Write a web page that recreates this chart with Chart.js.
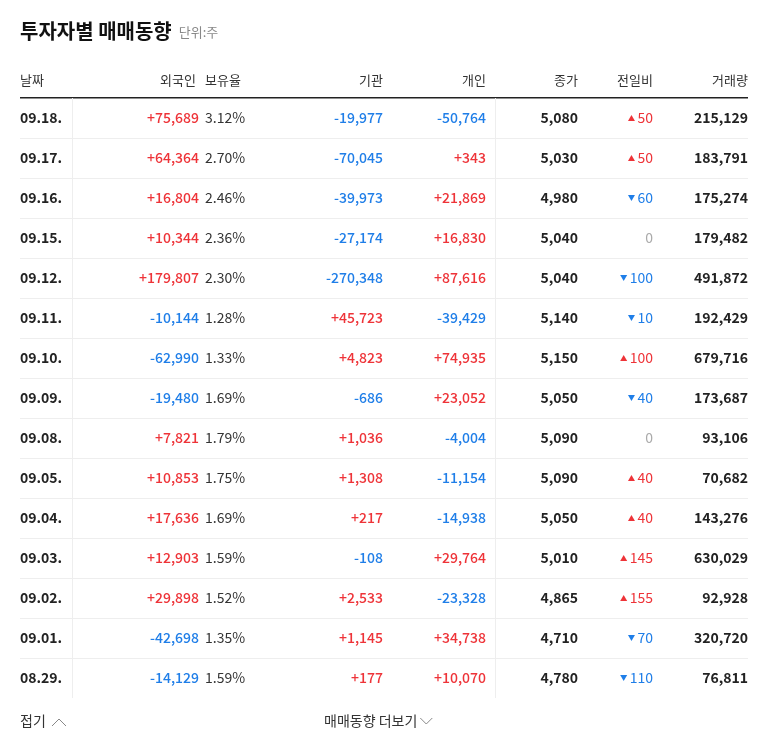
<!DOCTYPE html>
<html><head><meta charset="utf-8">
<script src="https://cdn.jsdelivr.net/npm/chart.js@4"></script>
<style>html,body{margin:0;padding:0;background:#fff}#w{width:768px;height:749px}</style>
</head><body><div id="w"><canvas id="c"></canvas></div>
<script>
const dates=["09.18.","09.17.","09.16.","09.15.","09.12.","09.11.","09.10.","09.09.","09.08.","09.05.","09.04.","09.03.","09.02.","09.01.","08.29."];
const foreign=[75689,64364,16804,10344,179807,-10144,-62990,-19480,7821,10853,17636,12903,29898,-42698,-14129];
const holding=["3.12%","2.70%","2.46%","2.36%","2.30%","1.28%","1.33%","1.69%","1.79%","1.75%","1.69%","1.59%","1.52%","1.35%","1.59%"];
const inst=[-19977,-70045,-39973,-27174,-270348,45723,4823,-686,1036,1308,217,-108,2533,1145,177];
const indiv=[-50764,343,21869,16830,87616,-39429,74935,23052,-4004,-11154,-14938,29764,-23328,34738,10070];
const close=[5080,5030,4980,5040,5040,5140,5150,5050,5090,5090,5050,5010,4865,4710,4780];
const change=[50,50,-60,0,-100,-10,100,-40,0,40,40,145,155,-70,-110];
const volume=[215129,183791,175274,179482,491872,192429,679716,173687,93106,70682,143276,630029,92928,320720,76811];
const headers=["날짜","외국인","보유율","기관","개인","종가","전일비","거래량"];
const RED="#ee3338",BLUE="#1f7ee8",F='"Noto Sans CJK KR","Noto Sans",sans-serif';
const fmt=v=>Math.abs(v).toLocaleString("en-US");
const sgn=v=>v>0?"+"+fmt(v):v<0?"-"+fmt(v):"0";
const col=v=>v>0?RED:v<0?BLUE:"#aaa";
const tablePlugin={id:"tbl",afterDraw(ch){
 const c=ch.ctx,x=ch.scales.x,y=ch.scales.y,X=v=>x.getPixelForValue(v);
 c.save();c.textBaseline="middle";
 c.font="bold 20px "+F;c.fillStyle="#111";c.textAlign="left";c.fillText("투자자별 매매동향",X(20),31);
 const tw=c.measureText("투자자별 매매동향").width;
 c.font="13px "+F;c.fillStyle="#888";c.fillText("단위:주",X(20)+tw+7,32);
 c.font="13px "+F;c.fillStyle="#333";
 const hx=[[20,"left"],[196,"right"],[205,"left"],[383,"right"],[486,"right"],[578,"right"],[653,"right"],[748,"right"]];
 headers.forEach((h,i)=>{c.textAlign=hx[i][1];c.fillText(h,X(hx[i][0]),80);});
 c.fillStyle="#222";c.fillRect(X(20),97,X(748)-X(20),1.5);
 const rh=y.getPixelForValue(1)-y.getPixelForValue(0);
 c.fillStyle="#eee";
 for(let i=0;i<dates.length-1;i++){c.fillRect(X(20),y.getPixelForValue(i)+rh/2,X(748)-X(20),1);}
 c.fillRect(X(72),98,1,ch.chartArea.bottom-98);c.fillRect(X(495),98,1,ch.chartArea.bottom-98);
 dates.forEach((d,i)=>{const py=y.getPixelForValue(i);
  c.font="bold 14px "+F;c.fillStyle="#222";c.textAlign="left";c.fillText(d,X(20),py);
  c.font="500 14px "+F;c.textAlign="right";
  c.fillStyle=col(foreign[i]);c.fillText(sgn(foreign[i]),X(199),py);
  c.fillStyle=col(inst[i]);c.fillText(sgn(inst[i]),X(383),py);
  c.fillStyle=col(indiv[i]);c.fillText(sgn(indiv[i]),X(486),py);
  c.font="14px "+F;c.fillStyle="#333";c.textAlign="left";c.fillText(holding[i],X(205),py);
  c.font="bold 14px "+F;c.fillStyle="#222";c.textAlign="right";
  c.fillText(fmt(close[i]),X(578),py);c.fillText(fmt(volume[i]),X(748),py);
  c.font="14px "+F;const v=change[i];c.fillStyle=col(v);
  c.fillText(v===0?"0":fmt(v),X(653),py);
  if(v!==0){const w=c.measureText(fmt(v)).width,tx=X(653)-w-6;c.beginPath();
   if(v>0){c.moveTo(tx-3.5,py+3);c.lineTo(tx+3.5,py+3);c.lineTo(tx,py-3);}else{c.moveTo(tx-3.5,py-3);c.lineTo(tx+3.5,py-3);c.lineTo(tx,py+3);}
   c.closePath();c.fill();}
 });
 c.font="14px "+F;c.fillStyle="#333";c.textAlign="left";c.fillText("접기",X(20),721);
 c.strokeStyle="#888";c.lineWidth=1;c.beginPath();c.moveTo(52,726);c.lineTo(59,719);c.lineTo(66,726);c.stroke();
 c.fillText("매매동향 더보기",X(324),721);
 const mw=c.measureText("매매동향 더보기").width,mx=X(324)+mw+3;
 c.beginPath();c.moveTo(mx,718);c.lineTo(mx+6,724);c.lineTo(mx+12,718);c.stroke();
 c.restore();}};
new Chart(document.getElementById("c"),{type:"scatter",
 data:{labels:dates,datasets:[{data:[],pointRadius:0}]},
 options:{responsive:true,maintainAspectRatio:false,animation:false,
  layout:{padding:{top:98,bottom:51,left:0,right:0}},
  plugins:{legend:{display:false},tooltip:{enabled:false}},
  scales:{x:{type:"linear",min:0,max:768,display:false},
   y:{type:"category",labels:dates,offset:true,display:false}}},
 plugins:[tablePlugin]});
</script></body></html>
